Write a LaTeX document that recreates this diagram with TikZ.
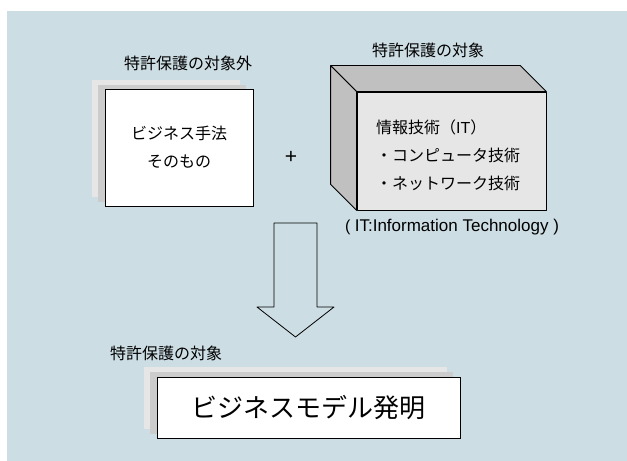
\documentclass[tikz,border=0pt]{standalone}
\usepackage{fontspec}
\setmainfont{Noto Sans CJK JP}
\newfontfamily\latinfont{Liberation Sans}
\definecolor{bgblue}{HTML}{CDDDE4}
\definecolor{shadelight}{HTML}{E6E6E6}
\definecolor{shademid}{HTML}{CCCCCC}
\definecolor{sidegray}{HTML}{C0C0C0}
\begin{document}
\begin{tikzpicture}[x = 1bp, y = -1bp,
   txt/.style = {font=\fontsize{16bp}{28bp}\selectfont, inner sep=0pt},
   bigtxt/.style = {font=\fontsize{26bp}{30bp}\selectfont, inner sep=0pt},
   card/.style = {draw, line width=0.8bp, fill=white, inner sep=0pt},
   light/.style = {fill=shadelight},
   mid/.style = {fill=shademid},
   face/.style = {draw, line width=0.8bp, line join=round}]
   \useasboundingbox (0, 0) rectangle (627, 461);
   \fill[white] (0, 0) rectangle (627, 461);
   \fill[bgblue] (7, 11) rectangle (627, 461);
   % left stack
   \fill[light] (92, 80) rectangle (240, 197);
   \fill[mid] (98, 85) rectangle (246, 202);
   \node[card, minimum width=148bp, minimum height=117bp] (method) at (179, 147.5) {};
   \node[txt, align=center] (methodtext) at (method.center) {ビジネス手法\\そのもの};
   \node[txt] (outside) at (188, 63) {特許保護の対象外};
   \node[txt, font=\fontsize{21bp}{24bp}\latinfont] (plus) at (291, 157) {+};
   % cube
   \node[face, fill=shadelight, minimum width=189bp, minimum height=118bp] (it) at (451.5, 151) {};
   \filldraw[face, fill=sidegray] (it.north west) -- ++(-26, -26) -- ([shift={(-26,-26)}]it.north east) -- (it.north east) -- cycle;
   \filldraw[face, fill=sidegray] (it.north west) -- ++(-26, -26) -- ([shift={(-26,-26)}]it.south west) -- (it.south west) -- cycle;
   \node[txt, anchor=west, align=left] (ittext) at (376, 155) {情報技術（{\latinfont IT}）\\・コンピュータ技術\\・ネットワーク技術};
   \node[txt] (inside) at (428, 50) {特許保護の対象};
   \node[txt] (itnote) at (452, 227) {{\latinfont (\ \fontsize{17bp}{20bp}\selectfont IT:Information Technology\ )}};
   % arrow
   \filldraw[face, fill=bgblue] (274, 223) -- (317, 223) -- (317, 307) -- (334, 307)
      -- (295.5, 337) -- (257, 307) -- (274, 307) -- cycle;
   % bottom stack
   \fill[light] (144, 367) rectangle (447, 429);
   \fill[mid] (150, 372) rectangle (453, 434);
   \node[card, minimum width=303bp, minimum height=61bp] (model) at (308.5, 407.5) {};
   \node[bigtxt] (modeltext) at (model.center) {ビジネスモデル発明};
   \node[txt] (result) at (166, 353) {特許保護の対象};
\end{tikzpicture}
\end{document}
